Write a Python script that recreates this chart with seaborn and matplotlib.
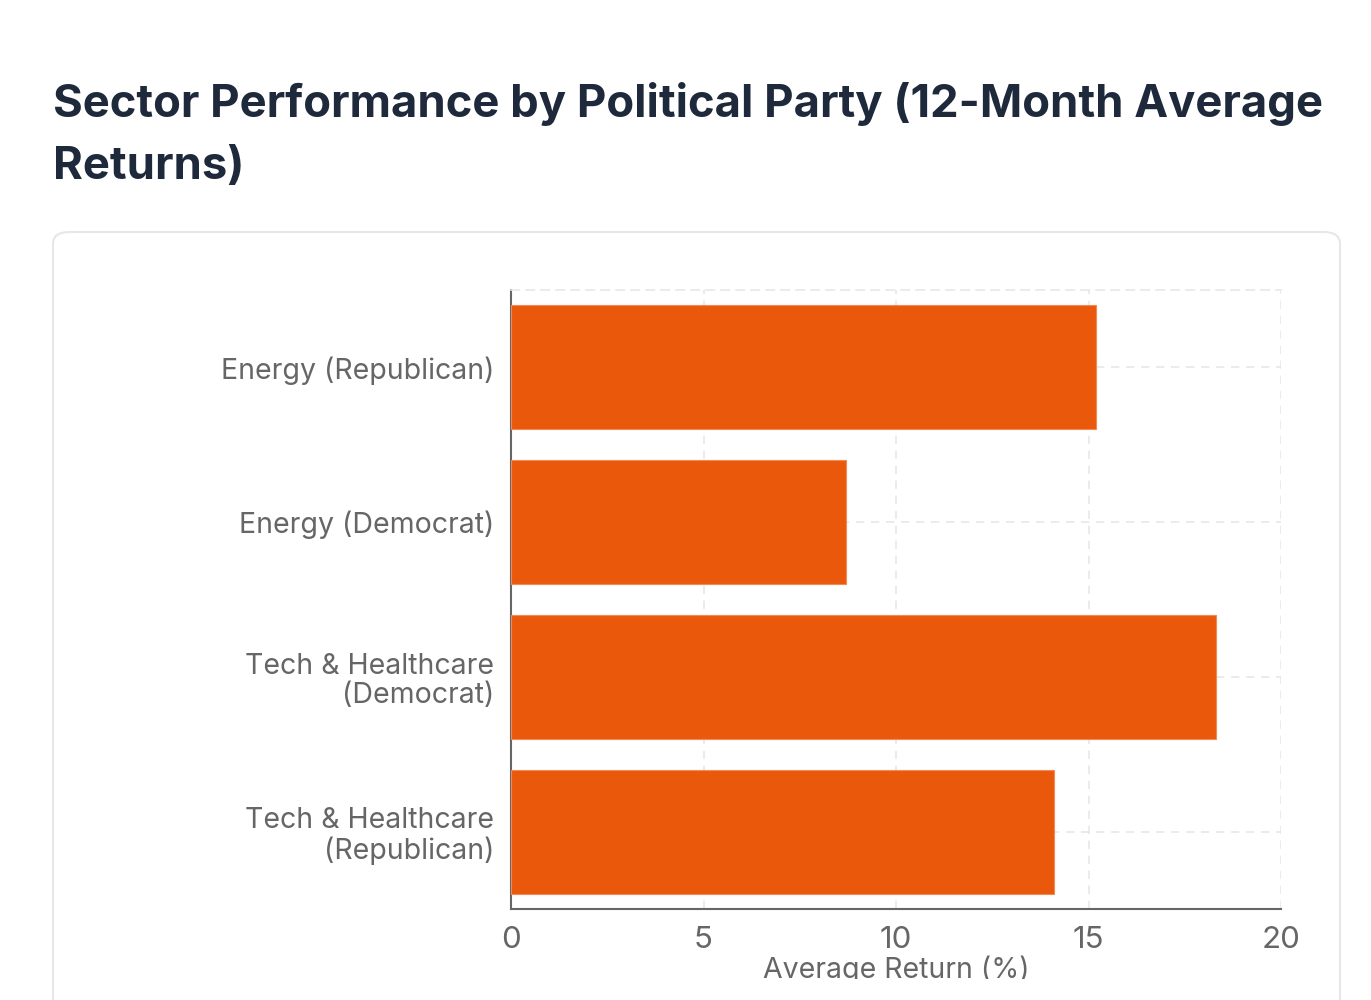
import matplotlib
matplotlib.use("Agg")
import matplotlib.pyplot as plt
import seaborn as sns
import pandas as pd
from matplotlib.patches import FancyBboxPatch
from matplotlib.transforms import Bbox, TransformedBbox

# data
sectors = ["Energy (Republican)", "Energy (Democrat)",
           "Tech & Healthcare\n(Democrat)", "Tech & Healthcare\n(Republican)"]
returns = [15.2, 8.7, 18.3, 14.1]
x_ticks = [0, 5, 10, 15, 20]

df = pd.DataFrame({"sector": sectors, "ret": returns})

sns.set_theme(style="white")
plt.rcParams['font.family'] = ['Inter', 'DejaVu Sans']

fig = plt.figure(figsize=(13.71, 10), dpi=100)

# card behind the chart
card = FancyBboxPatch((53 / 1371, -0.05), (1340 - 53) / 1371, 1.05 - 232 / 1000,
                      boxstyle="round,pad=0,rounding_size=0.012",
                      transform=fig.transFigure, facecolor="white",
                      edgecolor="#e5e7eb", linewidth=1.5, zorder=-5)
fig.patches.append(card)

fig.text(53 / 1371, 1 - 82 / 1000, "Sector Performance by Political Party (12-Month Average\nReturns)",
         fontsize=32.7, fontweight="bold", color="#1e293b", va="top", ha="left",
         linespacing=1.62, transform=fig.transFigure)

ax = fig.add_axes([511 / 1371, 1 - 909 / 1000, (1281 - 511) / 1371, (909 - 290) / 1000])
ax.set_zorder(2)
ax.patch.set_alpha(0)
sns.barplot(data=df, x="ret", y="sector", orient="h", color="#ea580c",
            saturation=1, width=0.8, ax=ax, zorder=3)
for p in ax.patches:
    p.set_edgecolor("#f28a55")
    p.set_linewidth(0.8)

ax.set_xlim(0, 20)
ax.set_xticks(x_ticks)
ax.set_xticklabels([str(t) for t in x_ticks])
ax.set_ylim(3.5, -0.5)

ax.grid(True, axis="both", color="#e5e7eb", linestyle=(0, (5, 4)), linewidth=1.2, zorder=0)
ax.set_axisbelow(True)

ax.spines["top"].set_visible(True)
ax.spines["top"].set_color("#e5e7eb")
ax.spines["top"].set_linestyle((0, (5, 4)))
ax.spines["top"].set_linewidth(1.2)
ax.spines["right"].set_visible(False)
for s in ["left", "bottom"]:
    ax.spines[s].set_color("#666666")
    ax.spines[s].set_linewidth(1.5)

ax.tick_params(axis="both", colors="#666666", labelcolor="#666666", length=8, width=1.2,
               labelsize=20.5, pad=4)
ax.tick_params(axis="x", labelsize=22.5, pad=4)
for lbl in ax.get_yticklabels():
    lbl.set_linespacing(1.12)
ax.set_ylabel("")
ax.set_xlabel("Average Return (%)", fontsize=20.5, color="#666666", labelpad=1)

clip = TransformedBbox(Bbox([[0, 0.021], [1, 1]]), fig.transFigure)
ax.xaxis.label.set_clip_box(clip)
ax.xaxis.label.set_clip_on(True)

fig.savefig("out.png", dpi=100)
